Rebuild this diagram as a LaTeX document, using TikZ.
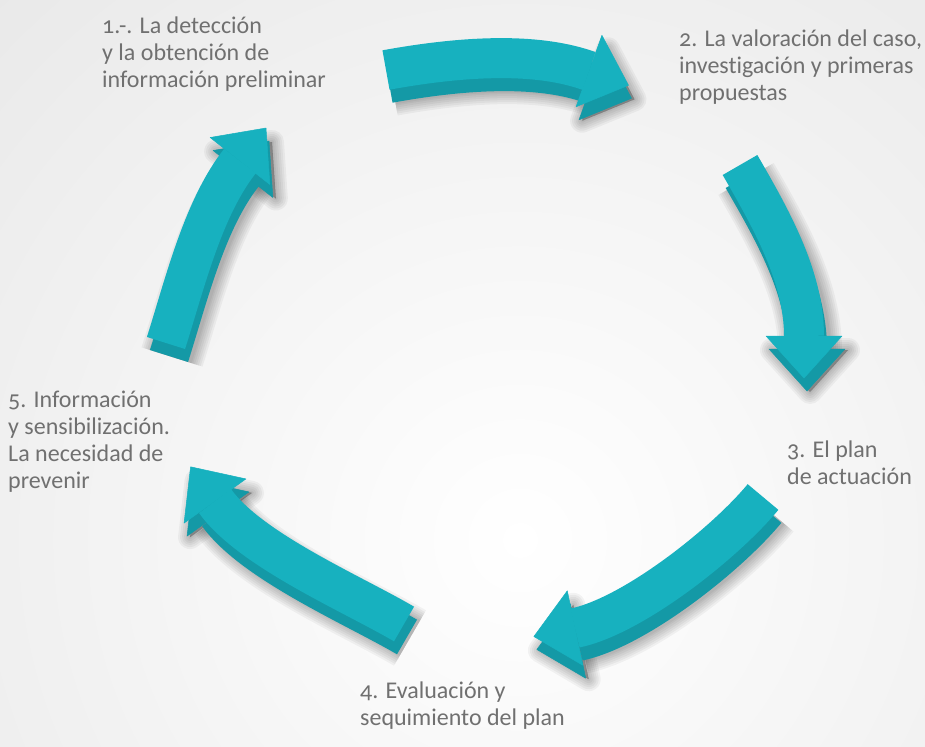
\documentclass[tikz,border=0pt]{standalone}
\usepackage{fontspec}
\setmainfont{Carlito}[Numbers=OldStyle, Ligatures=NoCommon]
\usetikzlibrary{calc}
\definecolor{topc}{RGB}{23,177,191}
\definecolor{sidec}{RGB}{20,153,166}
\definecolor{txt}{RGB}{112,112,112}
\newcommand\defarrow[5]{%
  \coordinate (#1t) at #2; \coordinate (#1a) at #3;
  \coordinate (#1b) at #4; \coordinate (#1h) at #5;
  \coordinate (#1w1) at ($(#1h)!38pt!90:(#1b)$);
  \coordinate (#1w2) at ($(#1h)!38pt!-90:(#1b)$);
  \coordinate (#1p) at ($(#1h)!-42pt!(#1b)$);
}
\newcommand\arrowshape[5]{%
  \draw[color=#4, opacity=#5, line width=#2, line cap=butt]
    (#1t) .. controls (#1a) and (#1b) .. (#1h);
  \filldraw[color=#4, opacity=#5, line width=#3, line join=round]
    (#1w1) -- (#1p) -- (#1w2) -- cycle;
}
\tikzset{lbl/.style={font=\fontsize{24}{27}\selectfont, text=txt, inner sep=0pt, anchor=base west}}
\begin{document}
\begin{tikzpicture}[x=1pt,y=-1pt]
\useasboundingbox (0,0) rectangle (925,746);
% background
\begin{scope}
  \clip (0,0) rectangle (925,746);
  \fill[white] (0,0) rectangle (925,746);
  \shade[inner color=white, outer color=black!17] (520,540) circle (1500);
\end{scope}
% arrow geometry
\defarrow{A}{(386,70)}{(474,54)}{(542,54)}{(589,71)}
\defarrow{B}{(740,165)}{(770,217)}{(804,276)}{(804,336)}
\defarrow{C}{(763,497)}{(725,543)}{(633,616)}{(575,628)}
\defarrow{D}{(404,624)}{(353,594)}{(250,550)}{(215,501)}
\defarrow{E}{(166,343)}{(185,283)}{(203,208)}{(240,161)}
% soft shadows
\foreach \p in {A,B,C,D,E}{
  \begin{scope}[transform canvas={xshift=6pt,yshift=-14pt}]
    \foreach \w/\s in {64/24,60/20,56/16,52/12,48/8,44/4,41/1}{
      \arrowshape{\p}{\w pt}{\s pt}{black}{0.045}
    }
  \end{scope}
}
% side faces
\foreach \p in {A,B,C,D,E}{
  \begin{scope}[transform canvas={xshift=3pt,yshift=-13pt}]
    \arrowshape{\p}{40pt}{0.5pt}{sidec}{1}
  \end{scope}
}
% top faces
\foreach \p in {A,B,C,D,E}{
  \arrowshape{\p}{40pt}{0.5pt}{topc}{1}
}
% labels
\node[lbl] (l1) at (102,34) {\vtop{\hbox{1.-. La detección}\hbox{y la obtención de}\hbox{información preliminar}}};
\node[lbl] (l2) at (679,46.5) {\vtop{\hbox{2. La valoración del caso,}\hbox{investigación y primeras}\hbox{propuestas}}};
\node[lbl] (l3) at (787,457) {\vtop{\hbox{3. El plan}\hbox{de actuación}}};
\node[lbl] (l4) at (360,698) {\vtop{\hbox{4. Evaluación y}\hbox{sequimiento del plan}}};
\node[lbl] (l5) at (8,407) {\vtop{\hbox{5. Información}\hbox{y sensibilización.}\hbox{La necesidad de}\hbox{prevenir}}};
\end{tikzpicture}
\end{document}
